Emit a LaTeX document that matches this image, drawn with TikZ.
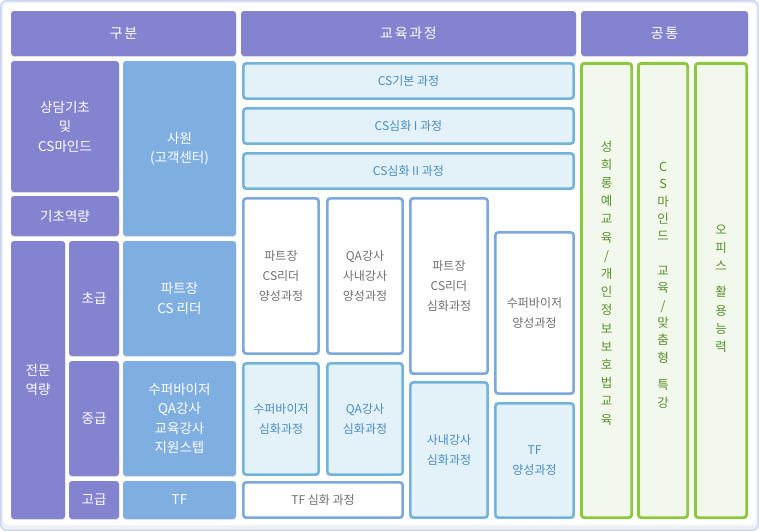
\documentclass[tikz,border=0pt]{standalone}
\usepackage{fontspec}
\setmainfont{Noto Sans CJK KR}
\usetikzlibrary{shadows}
\definecolor{purp}{HTML}{8483D0}
\definecolor{lblue}{HTML}{7FAFE0}
\definecolor{cbord}{HTML}{72B3DC}
\definecolor{cfill}{HTML}{E3F1F9}
\definecolor{wbord}{HTML}{7BA8DE}
\definecolor{ctext}{HTML}{4A8EC0}
\definecolor{gtext}{HTML}{707070}
\definecolor{gbord}{HTML}{8DC63F}
\definecolor{gfill}{HTML}{F3F8EC}
\definecolor{gtxt}{HTML}{5A8F2E}
\definecolor{frame}{HTML}{CAD8EE}
\definecolor{framein}{HTML}{EEF2F8}
\tikzset{
  base/.style={inner sep=0pt, outer sep=0pt, align=center, rounded corners=3pt},
  hdr/.style={base, fill=purp, text=white, font=\fontsize{14}{18}\selectfont\addfontfeature{LetterSpace=12},
    drop shadow={shadow xshift=0.4pt, shadow yshift=-1.2pt, opacity=0.18}},
  pbox/.style={base, fill=purp, text=white, font=\fontsize{13.5}{19.5}\selectfont,
    drop shadow={shadow xshift=0.4pt, shadow yshift=-1.2pt, opacity=0.18}},
  bbox/.style={base, fill=lblue, text=white, font=\fontsize{13.5}{19.5}\selectfont,
    drop shadow={shadow xshift=0.4pt, shadow yshift=-1.2pt, opacity=0.18}},
  cbox/.style={base, draw=cbord, line width=2.6pt, fill=cfill, text=ctext, font=\fontsize{12}{20}\selectfont},
  wbox/.style={base, draw=wbord, line width=2.6pt, fill=white, text=gtext, font=\fontsize{12}{20}\selectfont},
  gbox/.style={base, draw=gbord, line width=2.8pt, fill=gfill},
  vtxt/.style={inner sep=0pt, align=center, text=gtxt, font=\fontsize{12.5}{18.2}\selectfont},
}
% name, style, x1, y1, x2, y2, text  (filled boxes: outer extent)
\newcommand\solidbox[7]{%
  \pgfmathsetmacro\bw{#5-#3}\pgfmathsetmacro\bh{#6-#4}%
  \node[#2, minimum width=\bw pt, minimum height=\bh pt] (#1) at ({(#3+#5)/2},{(#4+#6)/2}) {#7};}
% bordered boxes: outer extent including the stroke
\newcommand\linebox[7]{%
  \pgfmathsetmacro\bw{#5-#3-2.7}\pgfmathsetmacro\bh{#6-#4-2.7}%
  \node[#2, minimum width=\bw pt, minimum height=\bh pt] (#1) at ({(#3+#5)/2},{(#4+#6)/2}) {#7};}
\begin{document}
\begin{tikzpicture}[x=1pt,y=-1pt]
\useasboundingbox (0,0) rectangle (759,531);
% frame
\draw[draw=frame, line width=1.5pt, fill=framein, rounded corners=6pt] (0.75,0.75) rectangle (758.25,530.25);
\fill[white, rounded corners=5pt] (3,3) rectangle (756,525);
% headers
\solidbox{h1}{hdr}{11}{11}{236}{56}{구분}
\solidbox{h2}{hdr}{241}{11}{576}{56}{교육과정}
\solidbox{h3}{hdr}{581}{11}{748}{56}{공통}
% left column
\solidbox{l1}{pbox}{11}{61}{119}{192}{상담기초\\및\\CS마인드}
\solidbox{l2}{pbox}{11}{196}{119}{236}{기초역량}
\solidbox{l3}{pbox}{11}{241}{65}{519}{전문\\역량}
\solidbox{l4}{pbox}{69}{241}{119}{356}{초급}
\solidbox{l5}{pbox}{69}{361}{119}{476}{중급}
\solidbox{l6}{pbox}{69}{481}{119}{519}{고급}
\solidbox{r1}{bbox}{123}{61}{236}{236}{사원\\(고객센터)}
\solidbox{r2}{bbox}{123}{241}{236}{356}{파트장\\CS 리더}
\solidbox{r3}{bbox}{123}{361}{236}{476}{수퍼바이저\\QA강사\\교육강사\\지원스텝}
\solidbox{r4}{bbox}{123}{481}{236}{519}{TF}
% middle column
\linebox{c1}{cbox}{242}{62}{575}{100}{CS기본 과정}
\linebox{c2}{cbox}{242}{107}{575}{145}{CS심화 I 과정}
\linebox{c3}{cbox}{242}{152}{575}{190}{CS심화 II 과정}
\linebox{w1}{wbox}{242}{197}{320}{355}{파트장\\CS리더\\양성과정}
\linebox{w2}{wbox}{326}{197}{404}{355}{QA강사\\사내강사\\양성과정}
\linebox{w3}{wbox}{409}{197}{489}{375}{파트장\\CS리더\\심화과정}
\linebox{w4}{wbox}{494}{231}{575}{395}{수퍼바이저\\양성과정}
\linebox{c4}{cbox}{242}{362}{320}{476}{수퍼바이저\\심화과정}
\linebox{c5}{cbox}{326}{362}{404}{476}{QA강사\\심화과정}
\linebox{c6}{cbox}{409}{381}{489}{519}{사내강사\\심화과정}
\linebox{c7}{cbox}{494}{402}{575}{519}{TF\\양성과정}
\linebox{w5}{wbox}{242}{481}{404}{519}{TF 심화 과정}
% right column
\linebox{g1}{gbox}{580}{62}{633}{519}{}
\linebox{g2}{gbox}{637}{62}{689}{519}{}
\linebox{g3}{gbox}{694}{62}{748}{519}{}
\node[vtxt] (t1) at (606.5,283) {성\\희\\롱\\예\\교\\육\\/\\개\\인\\정\\보\\보\\호\\법\\교\\육};
\node[vtxt, font=\fontsize{12.5}{17.4}\selectfont] (t2) at (663,285) {C\\S\\마\\인\\드\\[17pt]교\\육\\/\\맞\\춤\\형\\[10pt]특\\강};
\node[vtxt] (t3) at (721,288.5) {오\\피\\스\\[8pt]활\\용\\능\\력};
\end{tikzpicture}
\end{document}
